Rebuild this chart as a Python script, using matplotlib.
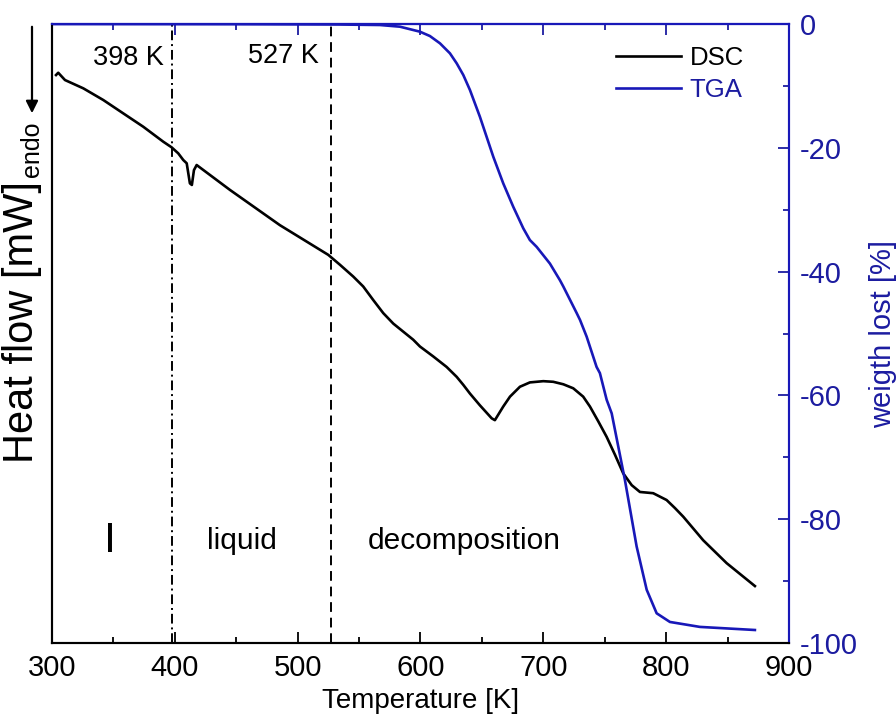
import numpy as np
import matplotlib
matplotlib.use("Agg")
from matplotlib import pyplot as plt
from matplotlib.ticker import MultipleLocator

plt.rcParams['font.family'] = ['Liberation Sans', 'DejaVu Sans']
plt.rcParams['axes.unicode_minus'] = False

blue = '#1818b8'
dark_blue = '#1c1ca0'

# DSC curve (arbitrary heat flow units, endo down)
dsc_T = [303.3, 305.1, 310.6, 325.5, 341.8, 358.0, 374.3, 390.6, 397.4, 402.8,
         406.9, 409.7, 412.3, 413.9, 415.6, 417.8, 444.9, 485.6, 525.0, 534.5,
         545.3, 553.4, 561.6, 569.7, 577.9, 586.0, 594.1, 599.6, 610.4, 621.3,
         629.5, 634.9, 640.3, 648.4, 658.0, 660.6, 667.4, 672.9, 681.0, 689.1,
         700.0, 708.1, 716.3, 724.4, 732.5, 738.0, 744.8, 751.6, 758.4, 765.1,
         772.0, 778.7, 784.2, 789.5, 800.4, 807.2, 814.0, 822.1, 830.2, 849.3,
         872.3]
dsc_hf = [-8.24, -7.87, -9.05, -10.39, -12.28, -14.43, -16.59, -19.01, -19.92, -20.89,
          -21.97, -22.5, -25.74, -26.0, -23.6, -22.78, -26.8, -32.5, -37.3, -38.9,
          -40.8, -42.4, -44.6, -46.7, -48.4, -49.7, -51.0, -52.1, -53.7, -55.4,
          -57.0, -58.3, -59.7, -61.6, -63.7, -64.0, -61.8, -60.2, -58.6, -57.9,
          -57.7, -57.8, -58.2, -58.85, -60.2, -61.8, -64.2, -66.7, -69.6, -72.6,
          -74.5, -75.6, -75.7, -75.8, -76.9, -78.2, -79.6, -81.5, -83.4, -87.1,
          -90.8]

# TGA curve
tga_T = [300.0, 450.0, 534.0, 567.0, 583.3, 599.6, 607.7, 615.9, 624.0, 629.5,
         634.9, 640.3, 648.4, 659.3, 667.4, 675.5, 683.7, 689.1, 694.6, 705.4,
         713.6, 716.3, 727.2, 729.9, 735.3, 743.4, 746.1, 751.6, 755.7, 766.5,
         776.0, 784.2, 792.3, 803.1, 827.5, 872.3]
tga_w = [0.0, -0.03, -0.08, -0.16, -0.43, -1.24, -1.94, -3.12, -4.73, -6.35,
         -8.24, -10.66, -14.98, -21.44, -25.74, -29.5, -33.0, -34.9, -36.0, -38.7,
         -41.4, -42.4, -46.7, -47.8, -50.5, -55.4, -56.4, -60.7, -62.9, -73.7,
         -84.4, -91.4, -95.2, -96.6, -97.4, -97.9]

t_melt = 398
t_dec = 527

fig = plt.figure(figsize=(8.96, 7.15), dpi=100)
ax = fig.add_axes([0.058, 0.1007, 0.8225, 0.8657])
ax2 = ax.twinx()

l_dsc, = ax.plot(dsc_T, dsc_hf, color='black', lw=1.9, label='DSC')
l_tga, = ax2.plot(tga_T, tga_w, color=blue, lw=1.9, label='TGA')

ax.axvline(t_melt, color='black', lw=1.4, ls=(0, (5, 2, 1, 2)))
ax.axvline(t_dec, color='black', lw=1.4, ls=(0, (5, 3)))

ax.set_xlim(300, 900)
ax.set_ylim(-100, 0)
ax2.set_ylim(-100, 0)

ax.xaxis.set_major_locator(MultipleLocator(100))
ax.xaxis.set_minor_locator(MultipleLocator(50))
ax.tick_params(axis='x', which='major', direction='in', length=8, width=1.3,
               labelsize=21, pad=8)
ax.tick_params(axis='x', which='minor', direction='in', length=4, width=1.3)
ax.tick_params(axis='y', which='both', left=False, labelleft=False)

ax2.yaxis.set_major_locator(MultipleLocator(20))
ax2.yaxis.set_minor_locator(MultipleLocator(10))
ax2.tick_params(axis='y', which='major', direction='in', length=8, width=1.3,
                colors=dark_blue, labelsize=21, pad=8)
ax2.tick_params(axis='y', which='minor', direction='in', length=4, width=1.3,
                colors=dark_blue)

top = ax.secondary_xaxis('top')
top.xaxis.set_major_locator(MultipleLocator(100))
top.xaxis.set_minor_locator(MultipleLocator(50))
top.tick_params(axis='x', which='major', direction='in', length=8, width=1.3,
                colors=dark_blue, labeltop=False)
top.tick_params(axis='x', which='minor', direction='in', length=4, width=1.3,
                colors=dark_blue)

for a in (ax, ax2):
    for s in a.spines.values():
        s.set_linewidth(1.5)
    a.spines['right'].set_color(blue)
    a.spines['top'].set_color(blue)
top.spines['top'].set_color(blue)
top.spines['top'].set_linewidth(1.5)

ax.set_xlabel('Temperature [K]', fontsize=20, labelpad=4)
ax.set_ylabel('Heat flow [mW]', fontsize=30)
ax.yaxis.set_label_coords(-0.013, 0.519)
ax2.set_ylabel('weigth lost [%]', fontsize=21, color=dark_blue, labelpad=8)

ax.text(t_melt - 7, -5.5, '398 K', fontsize=19.5, ha='right', va='center')
ax.text(t_dec - 10, -5.2, '527 K', fontsize=19.5, ha='right', va='center')
ax.text(347, -83.5, 'I', fontsize=31, ha='center', va='center')
ax.text(455, -83.5, 'liquid', fontsize=21.5, ha='center', va='center')
ax.text(636, -83.5, 'decomposition', fontsize=21.5, ha='center', va='center')

# endo arrow outside the frame
fig.text(32 / 896, 1 - 149 / 715, 'endo', fontsize=18, rotation=90,
         ha='center', va='center')
ax.annotate('', xy=(32 / 896, 1 - 116 / 715), xytext=(32 / 896, 1 - 24 / 715),
            xycoords='figure fraction', textcoords='figure fraction',
            arrowprops=dict(arrowstyle='-|>', color='black', lw=1.6,
                            mutation_scale=18))

ax2.legend([l_dsc, l_tga], ['DSC', 'TGA'], loc='upper left',
           bbox_to_anchor=(0.766, 0.964), frameon=False, fontsize=18.5,
           handlelength=2.5, handletextpad=0.35, labelspacing=0.3,
           borderpad=0, borderaxespad=0, labelcolor=['black', dark_blue])

fig.savefig('out.png', dpi=100)
